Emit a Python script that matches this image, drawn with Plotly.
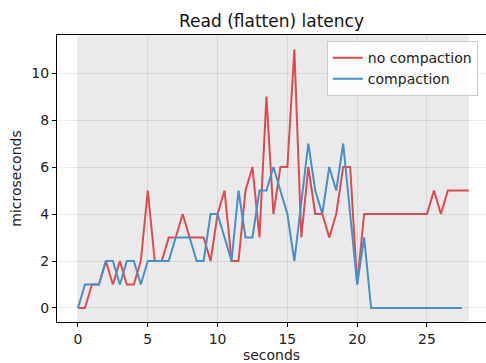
import plotly.graph_objects as go

t_red = [i * 0.5 for i in range(57)]
no_compaction = [0, 0, 1, 1, 2, 1, 2, 1, 1, 2,
                 5, 2, 2, 3, 3, 4, 3, 3, 3, 2,
                 4, 5, 2, 2, 5, 6, 3, 9, 4, 6,
                 6, 11, 3, 6, 4, 4, 3, 4, 6, 6,
                 1, 4, 4, 4, 4, 4, 4, 4, 4, 4,
                 4, 5, 4, 5, 5, 5, 5]

t_blue = [i * 0.5 for i in range(56)]
compaction = [0, 1, 1, 1, 2, 2, 1, 2, 2, 1,
              2, 2, 2, 2, 3, 3, 3, 2, 2, 4,
              4, 3, 2, 5, 3, 3, 5, 5, 6, 5,
              4, 2, 4.5, 7, 5, 4, 6, 5, 7, 4,
              1, 3, 0, 0, 0, 0, 0, 0, 0, 0,
              0, 0, 0, 0, 0, 0]

x_ticks = [0, 5, 10, 15, 20, 25]
y_ticks = [0, 2, 4, 6, 8, 10]

RED = "#df4a4f"
BLUE = "#4690c8"
FONT = "DejaVu Sans"

fig = go.Figure()
fig.add_trace(go.Scatter(x=t_red, y=no_compaction, mode="lines", name="no compaction",
                         line=dict(color=RED, width=2)))
fig.add_trace(go.Scatter(x=t_blue, y=compaction, mode="lines", name="compaction",
                         line=dict(color=BLUE, width=2)))

fig.add_shape(type="rect", xref="x", yref="paper", x0=0, x1=28, y0=0, y1=1,
              fillcolor="#eaeaea", line=dict(width=0), layer="below")

fig.update_layout(
    width=486, height=363,
    margin=dict(l=57, r=0, t=35, b=41),
    paper_bgcolor="white", plot_bgcolor="white",
    font=dict(family=FONT, size=14, color="#222"),
    title=dict(text="Read (flatten) latency", x=0.5, xanchor="center", xref="paper",
               y=1 - 21 / 363, yanchor="middle", font=dict(size=17, color="#111")),
    legend=dict(x=0.981, xanchor="right", y=0.979, yanchor="top",
                bgcolor="rgba(255,255,255,0.85)", bordercolor="#cccccc", borderwidth=1,
                font=dict(size=14, color="#222"), tracegroupgap=0),
    showlegend=True,
)
fig.update_xaxes(range=[-1.504, 29.23], tickvals=x_ticks, ticks="outside", ticklen=4,
                 tickcolor="black", showline=True, linecolor="black", linewidth=1,
                 mirror=True, showgrid=True, gridcolor="rgba(0,0,0,0.08)", zeroline=False,
                 title=dict(text="seconds", standoff=4, font=dict(size=14)))
fig.update_yaxes(range=[-0.596, 11.617], tickvals=y_ticks, ticks="outside", ticklen=4,
                 tickcolor="black", showline=True, linecolor="black", linewidth=1,
                 showgrid=True, gridcolor="rgba(0,0,0,0.08)", zeroline=False,
                 title=dict(text="microseconds", standoff=6, font=dict(size=14)))

fig.write_html("out.html")
